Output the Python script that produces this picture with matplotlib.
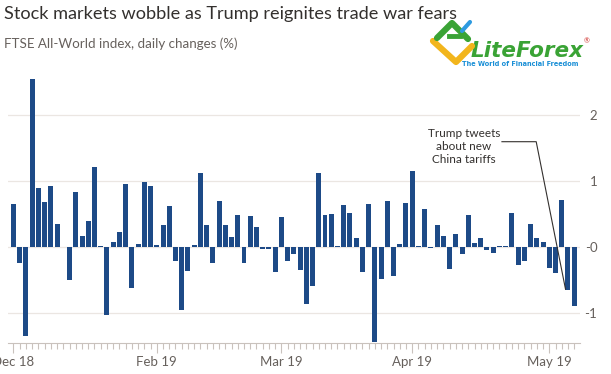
import numpy as np
import matplotlib
matplotlib.use("Agg")
import matplotlib.pyplot as plt

# FTSE All-World daily changes (%), one value per trading day
values = [0.65, -0.25, -1.36, 2.56, 0.89, 0.69, 0.92, 0.35, 0.0, -0.50, 0.83, 0.17, 0.39, 1.22,
          0.01, -1.04, 0.07, 0.23, 0.96, -0.62, 0.05, 0.98, 0.93, 0.03, 0.33, 0.62, -0.22, -0.96, -0.37, 0.03,
          1.12, 0.33, -0.25, 0.70, 0.34, 0.15, 0.48, -0.24, 0.47, 0.31, -0.03, -0.03, -0.38, 0.45, -0.21,
          -0.11, -0.35, -0.86, -0.60, 1.12, 0.49, 0.50, 0.01, 0.64, 0.51, 0.13, -0.38, 0.66, -1.44, -0.49,
          0.70, -0.44, 0.05, 0.67, 1.15, 0.01, 0.57, -0.01, 0.34, 0.16, -0.34, 0.20, -0.10, 0.48, 0.06, 0.14,
          -0.05, -0.09, 0.01, 0.01, 0.51, -0.28, -0.21, 0.35, 0.13, 0.08, -0.32, -0.39, 0.71, -0.66, -0.89]
month_idx = [0, 23, 43, 64, 86]
month_labels = ["Dec 18", "Feb 19", "Mar 19", "Apr 19", "May 19"]
y_ticks = [-1, 0, 1, 2]
y_labels = ["-1", "-0", "1", "2"]
tweet_day = 89

W, H = 611, 374
BAR = "#1d4a87"
GREY = "#66605c"
GRID = "#ebe6e2"

plt.rcParams["font.family"] = ["Lato", "DejaVu Sans"]

fig = plt.figure(figsize=(W / 100, H / 100), dpi=100)
fig.patch.set_facecolor("white")

def px(x, y):
    return x / W, 1 - y / H

# main axes: pixel box x 8..580, y 70..343
ax = fig.add_axes([8 / W, (H - 343) / H, 572 / W, 273 / H])
x = np.arange(len(values))
ax.bar(x, values, width=0.8, color=BAR, zorder=3)
ax.set_xlim(-0.88, 90.93)
ax.set_ylim(-1.46, 2.69)

for s in ["top", "right", "left"]:
    ax.spines[s].set_visible(False)
ax.spines["bottom"].set_color("#c9c2bd")
ax.spines["bottom"].set_linewidth(0.8)

ax.yaxis.tick_right()
ax.set_yticks(y_ticks)
ax.set_yticklabels(y_labels)
ax.tick_params(axis="y", length=0, pad=12.5, labelsize=9.5, labelcolor=GREY)
for lab in ax.get_yticklabels():
    lab.set_horizontalalignment("right")
ax.grid(axis="y", color=GRID, linewidth=0.9, zorder=0)

ax.set_xticks(month_idx)
ax.set_xticklabels(month_labels)
ax.set_xticks(x, minor=True)
ax.tick_params(axis="x", which="major", length=7.5, width=0.8, color="#c9c2bd",
               labelsize=9.5, labelcolor=GREY, pad=2)
ax.tick_params(axis="x", which="minor", length=4, width=0.8, color="#c9c2bd")

# annotation
ax.text(72.3, 1.53, "Trump tweets\nabout new\nChina tariffs", ha="center", va="center",
        fontsize=8.5, color="#33302e", linespacing=1.25)
ax.plot([78.4, 83.9, tweet_day - 0.4], [1.60, 1.60, values[tweet_day] + 0.02],
        color="#33302e", linewidth=0.8, zorder=4)

# titles
fig.text(*px(4, 19.5), "Stock markets wobble as Trump reignites trade war fears",
         fontsize=13.1, color="#33302e", va="baseline", ha="left")
fig.text(*px(4, 48), "FTSE All-World index, daily changes (%)",
         fontsize=9.6, color=GREY, va="baseline", ha="left")

# watermark logo
lg = fig.add_axes([0, 0, 1, 1], zorder=5)
lg.set_xlim(0, W)
lg.set_ylim(H, 0)
lg.axis("off")
lg.plot([433, 456, 472], [41, 62, 46], color="#f2b51c", linewidth=4.5, solid_capstyle="round")
lg.plot([437, 452, 468], [38, 23, 39], color="#3aa335", linewidth=4.5, solid_capstyle="round")
lg.plot([449, 460], [36, 36], color="#3aa335", linewidth=3.5)
lg.plot([462, 470], [31, 22], color="#2d9ae0", linewidth=3, solid_capstyle="round")
fig.text(*px(471, 57), "LiteForex", fontsize=15.5, fontweight="bold", fontstyle="italic",
         color="#3aa335", va="baseline", ha="left", family=["DejaVu Sans"])
fig.text(*px(584, 43), "®", fontsize=5, color="#d0312d", va="baseline", ha="left")
fig.text(*px(520, 64), "The World of Financial Freedom", fontsize=4.7, fontweight="bold",
         color="#1a8fd6", va="center", ha="center", family=["DejaVu Sans"])

fig.savefig("out.png", dpi=100)
